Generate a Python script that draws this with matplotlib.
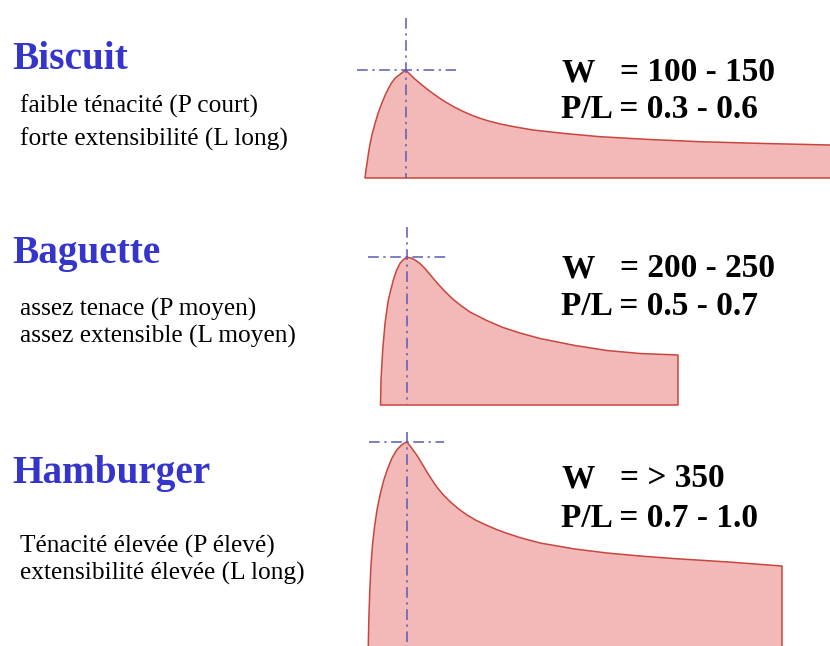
import matplotlib.pyplot as plt

# Profils alvéographiques (abscisse, ordonnée) en unités de dessin, ordonnée vers le bas
biscuit_x = [365, 366, 367.2, 368.5, 370, 372.3, 375, 378, 381.7, 385, 388.3, 391.5, 395, 400,
             405.7, 413.7, 421.7, 430, 438.3, 446, 455, 463, 471.7, 480, 488.3, 500, 515, 533,
             565, 600, 650, 700, 765, 830, 845]
biscuit_y = [178, 170, 162, 153, 144, 133.5, 123.5, 113.5, 103.5, 95.5, 88.5, 83, 78.3, 74.3,
             70, 78, 84.8, 91.3, 97.3, 102.3, 107.4, 111.4, 115.2, 118.3, 120.9, 123.9, 126.9, 130,
             133.5, 136.7, 139.5, 141.7, 143.5, 145, 145.3]
biscuit_base = 178

baguette_x = [380.5, 381, 382.7, 385, 388.3, 393.3, 396.5, 400, 403.5,
              407.3, 411, 415, 420, 425, 430, 436.7, 445, 453.3, 461.5, 470, 486.7, 503, 520,
              540, 575, 607, 640, 678]
baguette_y = [405, 380, 350, 323.3, 300, 280, 270.5, 263.3, 259.5,
              257.3, 258, 260, 263.5, 268.5, 274.5, 282.5, 291.5, 299.5, 306, 312, 320.5, 327.5, 333,
              338.5, 345.5, 350.5, 353.5, 355]
baguette_base = 405

hamburger_x = [368, 368.8, 369.8, 371, 372.5, 374.5, 377, 380, 383.5, 387.5, 392, 396.7, 401.5,
               406.7, 411.5, 416.7, 421.7, 426.7, 431.7, 436.7, 443, 450, 458, 466.7, 476,
               486.7, 496.5, 506.7, 520, 540, 575, 607, 640, 673, 730, 782]
hamburger_y = [660, 620, 590, 565, 545, 527, 510, 495, 481, 469, 458, 450, 445,
               441.7, 447.8, 455, 463.2, 471.5, 479.5, 486.8, 494.5, 501.5, 508.5, 514.8, 520.3,
               525.3, 529.5, 533.2, 537.6, 543, 549, 553, 556, 558.5, 562.1, 566]
hamburger_base = 660

noms = ["Biscuit", "Baguette", "Hamburger"]
descriptions = [
    ["faible ténacité (P court)", "forte extensibilité (L long)"],
    ["assez tenace (P moyen)", "assez extensible (L moyen)"],
    ["Ténacité élevée (P élevé)", "extensibilité élevée (L long)"],
]
valeurs_W = ["100 - 150", "200 - 250", "> 350"]
valeurs_PL = ["0.3 - 0.6", "0.5 - 0.7", "0.7 - 1.0"]

courbes = [(biscuit_x, biscuit_y, biscuit_base),
           (baguette_x, baguette_y, baguette_base),
           (hamburger_x, hamburger_y, hamburger_base)]

# lignes de repère (haut vertical, demi-largeur gauche/droite)
reperes = [(18, 49, 50), (227, 39, 41), (432, 38, 37)]
y_titres = [69, 263, 483]
y_lignes = [(113, 146), (316, 343), (553, 580)]
y_valeurs = [(81, 118), (277, 315), (487, 527)]

fig = plt.figure(figsize=(8.3, 6.46), dpi=100)
ax = fig.add_axes([0, 0, 1, 1])
ax.set_xlim(0, 830)
ax.set_ylim(646, 0)
ax.axis('off')

rose = '#f2b9b8'
bord = '#c8463f'
bleu = '#5a5ab4'
tirets = (0, (7, 3, 1.5, 3))

for i, (cx, cy, base) in enumerate(courbes):
    xs = list(cx) + [cx[-1], cx[0]]
    ys = list(cy) + [base, base]
    ax.fill(xs, ys, facecolor=rose, edgecolor=bord, linewidth=1.1,
            joinstyle='round', zorder=1)

    # pic P : croix en trait mixte
    k = cy.index(min(cy))
    px, py = cx[k], cy[k]
    haut, g, d = reperes[i]
    ax.plot([px, px], [haut, base], color=bleu, lw=1.1, linestyle=tirets, zorder=2)
    ax.plot([px - g, px + d], [py, py], color=bleu, lw=1.1, linestyle=tirets, zorder=2)

    ax.text(12, y_titres[i], noms[i], family='Liberation Serif', weight='bold',
            fontsize=28.3, color='#3535cc', va='baseline', ha='left')
    for ligne, yl in zip(descriptions[i], y_lignes[i]):
        ax.text(20, yl, ligne, family='Liberation Serif', fontsize=18.3,
                color='black', va='baseline', ha='left')

    yw, ypl = y_valeurs[i]
    ax.text(561, yw, "W", family='Liberation Serif', weight='bold',
            fontsize=24, va='baseline', ha='left')
    ax.text(620, yw, "= " + valeurs_W[i], family='Liberation Serif', weight='bold',
            fontsize=24, va='baseline', ha='left')
    ax.text(561, ypl, "P/L = " + valeurs_PL[i], family='Liberation Serif',
            weight='bold', fontsize=24, va='baseline', ha='left')

fig.savefig('out.png', dpi=100, facecolor='white')
